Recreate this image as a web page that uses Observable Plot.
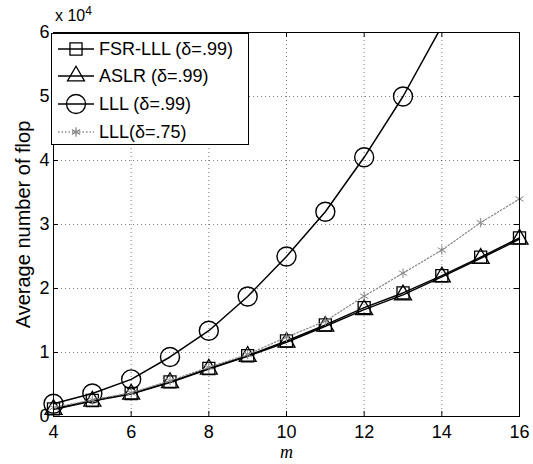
<!DOCTYPE html>
<html>
<head>
<meta charset="utf-8">
<script src="https://cdn.jsdelivr.net/npm/d3@7"></script>
<script src="https://cdn.jsdelivr.net/npm/@observablehq/plot@0.6"></script>
<style>
  html, body { margin: 0; padding: 0; background: #fff; }
  #wrap { position: relative; width: 533px; height: 464px; font-family: "Liberation Sans", Arial, sans-serif; }
  #exp { position: absolute; left: 55px; top: 4px; font-size: 16px; }
  #exp sup { font-size: 12px; }
  #legend { position: absolute; left: 51px; top: 33px; width: 198px; height: 112px; border: 1px solid #000; background: #fff; box-sizing: border-box; }
  .row { position: absolute; left: 0; height: 28px; display: flex; align-items: center; font-size: 18px; white-space: nowrap; }
  .row svg { flex: none; margin-right: 3px; }
</style>
</head>
<body>
<div id="wrap">
  <div id="chart"></div>
  <div id="exp">x 10<sup>4</sup></div>
  <div id="legend"></div>
</div>
<script>
// m values
const m = [4, 5, 6, 7, 8, 9, 10, 11, 12, 13, 14, 15, 16];
// Average number of flops (units of 1e4)
const fsrLLL = [0.12, 0.25, 0.36, 0.54, 0.75, 0.95, 1.18, 1.43, 1.70, 1.93, 2.20, 2.49, 2.79];
const aslr   = [0.11, 0.24, 0.35, 0.53, 0.74, 0.94, 1.16, 1.41, 1.67, 1.90, 2.18, 2.47, 2.77];
const lll99  = [0.20, 0.36, 0.58, 0.93, 1.34, 1.875, 2.50, 3.20, 4.05, 5.00, 6.10];
const lll75  = [0.14, 0.26, 0.37, 0.56, 0.77, 0.97, 1.24, 1.49, 1.88, 2.24, 2.60, 3.03, 3.40];
const xTicks = [4, 6, 8, 10, 12, 14, 16];
const yTicks = [0, 1, 2, 3, 4, 5, 6];
const seriesNames = ["FSR-LLL (δ=.99)", "ASLR (δ=.99)", "LLL (δ=.99)", "LLL(δ=.75)"];

const toRows = (vals) => vals.map((v, i) => ({m: m[i], y: v * 1e4}));
const dFSR = toRows(fsrLLL), dASLR = toRows(aslr), d99 = toRows(lll99), d75 = toRows(lll75);
const yT = yTicks.map(d => d * 1e4);

const W = 533, H = 464, mL = 53, mR = 14, mT = 32, mB = 48;
const fw = W - mL - mR, fh = H - mT - mB;
const font = "Liberation Sans, Arial, sans-serif";

const chart = Plot.plot({
  width: W, height: H,
  marginLeft: mL, marginRight: mR, marginTop: mT, marginBottom: mB,
  style: {fontFamily: font, background: "#fff", color: "#000"},
  x: {domain: [4, 16]},
  y: {domain: [0, 60000]},
  marks: [
    Plot.gridX(xTicks, {stroke: "#000", strokeOpacity: 0.5, strokeDasharray: "1,3"}),
    Plot.gridY(yT, {stroke: "#000", strokeOpacity: 0.5, strokeDasharray: "1,3"}),
    Plot.axisX({ticks: xTicks, tickSize: 0, tickPadding: 9, fontSize: 18, label: null, tickFormat: d => String(d)}),
    Plot.axisY({ticks: yT, tickSize: 0, tickPadding: 4, fontSize: 18, label: null, tickFormat: d => String(d / 1e4)}),
    Plot.ruleX(xTicks, {insetTop: fh - 5, stroke: "#000"}),
    Plot.ruleX(xTicks, {insetBottom: fh - 5, stroke: "#000"}),
    Plot.ruleY(yT, {insetRight: fw - 5, stroke: "#000"}),
    Plot.ruleY(yT, {insetLeft: fw - 5, stroke: "#000"}),
    Plot.line(dFSR, {x: "m", y: "y", stroke: "#000", strokeWidth: 1.4}),
    Plot.dot(dFSR, {x: "m", y: "y", symbol: "square", r: 6.8, fill: "none", stroke: "#000", strokeWidth: 1.3}),
    Plot.line(dASLR, {x: "m", y: "y", stroke: "#000", strokeWidth: 1.4}),
    Plot.dot(dASLR, {x: "m", y: "y", symbol: "triangle", r: 6.3, fill: "none", stroke: "#000", strokeWidth: 1.3}),
    Plot.line(d99, {x: "m", y: "y", stroke: "#000", strokeWidth: 1.5, clip: true}),
    Plot.dot(d99.filter(d => d.y <= 60000), {x: "m", y: "y", symbol: "circle", r: 9.5, fill: "none", stroke: "#000", strokeWidth: 1.4}),
    Plot.line(d75, {x: "m", y: "y", stroke: "#888", strokeWidth: 1.2, strokeDasharray: "1.5,2"}),
    Plot.dot(d75, {x: "m", y: "y", symbol: "asterisk", r: 4.5, stroke: "#888", strokeWidth: 1}),
    Plot.frame({stroke: "#000"}),
    Plot.text(["Average number of flop"], {text: d => d, frameAnchor: "left", textAnchor: "middle", lineAnchor: "middle", dx: -30, rotate: -90, fontSize: 20, fontFamily: font}),
    Plot.text(["m"], {text: d => d, frameAnchor: "bottom", lineAnchor: "middle", dy: 36, fontSize: 18, fontStyle: "italic", fontFamily: "Liberation Serif, Times New Roman, serif"})
  ]
});
document.getElementById("chart").appendChild(chart);

// legend
const legendSpec = [
  {name: seriesNames[0], sym: d3.symbolSquare, r: 6.8, color: "#000", dash: null, fill: "none"},
  {name: seriesNames[1], sym: d3.symbolTriangle, r: 6.3, color: "#000", dash: null, fill: "none"},
  {name: seriesNames[2], sym: d3.symbolCircle, r: 9.5, color: "#000", dash: null, fill: "none"},
  {name: seriesNames[3], sym: d3.symbolAsterisk, r: 4.5, color: "#888", dash: "1.5,2", fill: "none"}
];
const leg = document.getElementById("legend");
const rowTops = [1, 28, 56, 84];
legendSpec.forEach((s, i) => {
  const row = document.createElement("div");
  row.className = "row";
  row.style.top = rowTops[i] + "px";
  const path = d3.symbol().type(s.sym).size(Math.PI * s.r * s.r)();
  row.innerHTML = `<svg width="44" height="28"><line x1="6" x2="42" y1="14" y2="14" stroke="${s.color}" stroke-width="1.4" ${s.dash ? `stroke-dasharray="${s.dash}"` : ""}/><path d="${path}" transform="translate(24,14)" fill="${s.fill}" stroke="${s.color}" stroke-width="1.3"/></svg><span>${s.name}</span>`;
  leg.appendChild(row);
});
</script>
</body>
</html>
